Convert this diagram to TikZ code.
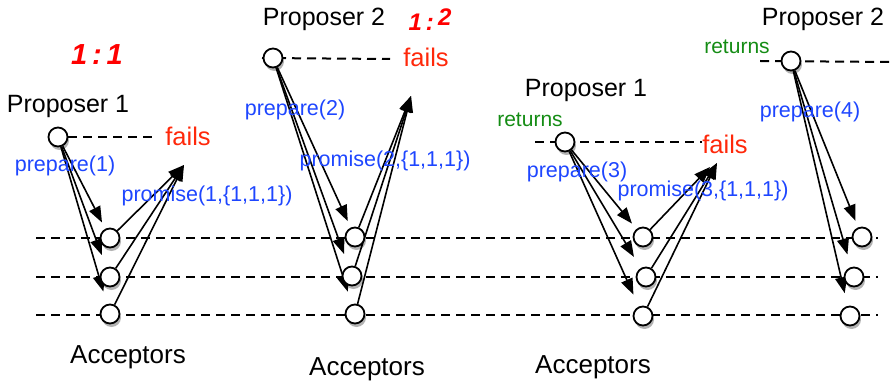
\documentclass[tikz,border=0pt]{standalone}
\usepackage{fontspec}
\setmainfont{Liberation Sans}
\usetikzlibrary{arrows.meta,shadows}
\definecolor{lblue}{RGB}{30,70,255}
\definecolor{fred}{RGB}{255,40,10}
\definecolor{rgreen}{RGB}{20,140,20}
\definecolor{hred}{RGB}{255,0,0}
\pgfdeclarelayer{background}
\pgfsetlayers{background,main}
\tikzset{
  agent/.style={circle, draw, line width=1.8pt, fill=white, minimum size=19pt, inner sep=0pt,
    drop shadow={opacity=0.3, shadow xshift=1.5pt, shadow yshift=-3.5pt, fill=black}},
  msg/.style={line width=1.6pt, -{Triangle[length=16pt,width=12pt]}},
  near/.style={msg, shorten >=7pt},
  far/.style={msg, shorten >=13pt},
  lane/.style={dash pattern=on 9pt off 6pt, line width=2pt},
  title/.style={font=\fontsize{25}{28}\selectfont},
  accl/.style={font=\fontsize{26}{29}\selectfont},
  failtxt/.style={text=fred, font=\fontsize{25.5}{28}\selectfont},
  lbl/.style={text=lblue, font=\fontsize{21.5}{24}\selectfont},
  rettxt/.style={text=rgreen, font=\fontsize{21}{24}\selectfont},
  hand/.style={text=hred, font=\fontsize{29}{30}\selectfont\itshape\bfseries},
}
\begin{document}
\begin{tikzpicture}[x=1pt,y=-1pt]
\useasboundingbox (0,0) rectangle (891,382);

% acceptor lanes
\draw[lane] (36,238) -- (878,238);
\draw[lane] (36,277) -- (878,277);
\draw[lane] (36,315) -- (878,315);

% ---------- panel 1 ----------
\node[hand] (h1) at (97,55) {1\,:\,1};
\node[title] (t1) at (68,106) {Proposer 1};
\coordinate (e1) at (158,137);
\node[failtxt] (f1) at (188,136) {fails};
\node[lbl] (p1l) at (65,166) {prepare(1)};
\node[lbl] (q1l) at (207,196) {promise(1,\{1,1,1\})};
\node[accl] (c1) at (128,357) {Acceptors};
\coordinate (T1) at (184,165);

% ---------- panel 2 ----------
\node[title] (t2) at (324,19) {Proposer 2};
\node[hand, font=\fontsize{24}{26}\selectfont\itshape\bfseries] (h2) at (430,20) {1\,:\,\raisebox{5pt}{2}};
\coordinate (s2) at (262,58);
\coordinate (e2) at (390,59);
\node[failtxt] (f2) at (426,57) {fails};
\node[lbl] (p2l) at (295,110) {prepare(2)};
\node[lbl] (q2l) at (385,161) {promise(2,\{1,1,1\})};
\node[accl] (c2) at (367,369) {Acceptors};
\coordinate (T2) at (411,96);

% ---------- panel 3 ----------
\node[title] (t3) at (586,90) {Proposer 1};
\node[rettxt] (r3) at (530,120) {returns};
\coordinate (s3) at (535,142);
\coordinate (e3) at (702,142);
\node[failtxt] (f3) at (725,144) {fails};
\node[lbl] (p3l) at (577,172) {prepare(3)};
\node[lbl] (q3l) at (703,191) {promise(3,\{1,1,1\})};
\node[accl] (c3) at (593,367) {Acceptors};
\coordinate (T3a) at (710,167);
\coordinate (T3b) at (717,163);

% ---------- panel 4 ----------
\node[title] (t4) at (823,19) {Proposer 2};
\node[rettxt] (r4) at (737,47) {returns};
\coordinate (s4) at (760,61);
\coordinate (e4) at (891,62);
\node[lbl] (p4l) at (810,112) {prepare(4)};

% proposer lanes
\draw[lane] (s2) -- (e2);
\draw[lane] (s3) -- (e3);
\draw[lane] (s4) -- (e4);

% nodes
\node[agent] (P1) at (58,137) {};
\node[agent] (P2) at (273,58) {};
\node[agent] (P3) at (565,142) {};
\node[agent] (P4) at (791,61) {};

\node[agent] (A11) at (110,238) {};
\node[agent] (A12) at (110,277) {};
\node[agent] (A13) at (110,314) {};
\node[agent] (A21) at (355,237) {};
\node[agent] (A22) at (352,276) {};
\node[agent] (A23) at (355,314) {};
\node[agent] (A31) at (643,237) {};
\node[agent] (A32) at (646,277) {};
\node[agent] (A33) at (643,316) {};
\node[agent] (A41) at (862,237) {};
\node[agent] (A42) at (854,277) {};
\node[agent] (A43) at (850,316) {};

\begin{pgfonlayer}{background}
\draw[lane] (P1) -- (e1);
% panel 1
\draw[near] (P1) -- (A11);
\draw[far] (P1) -- (A12);
\draw[far] (P1) -- (A13);
\draw[msg] (A11) -- (T1);
\draw[msg] (A12) -- (T1);
\draw[msg] (A13) -- (T1);
% panel 2
\draw[near] (P2) -- (A21);
\draw[far] (P2) -- (A22);
\draw[far] (P2) -- (A23);
\draw[msg] (A21) -- (T2);
\draw[msg] (A22) -- (T2);
\draw[msg] (A23) -- (T2);
% panel 3
\draw[near] (P3) -- (A31);
\draw[far] (P3) -- (A32);
\draw[far] (P3) -- (A33);
\draw[msg] (A31) -- (T3a);
\draw[msg] (A32) -- (T3b);
\draw[msg] (A33) -- (T3b);
% panel 4
\draw[near] (P4) -- (A41);
\draw[far] (P4) -- (A42);
\draw[far] (P4) -- (A43);
\end{pgfonlayer}
\end{tikzpicture}
\end{document}
